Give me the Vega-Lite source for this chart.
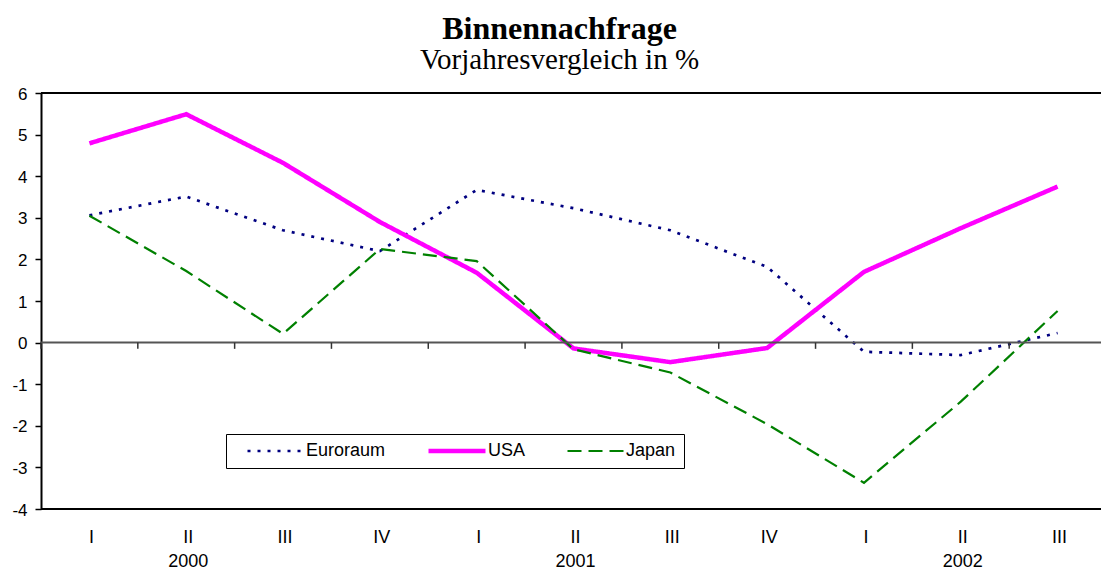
{
  "$schema": "https://vega.github.io/schema/vega-lite/v6.json",
  "width": 1065,
  "height": 416,
  "autosize": {"type": "none"},
  "padding": {"left": 41, "top": 93, "right": 0, "bottom": 62},
  "background": "white",
  "title": {
    "text": "Binnennachfrage",
    "subtitle": "Vorjahresvergleich in %",
    "font": "Liberation Serif",
    "fontSize": 32,
    "fontWeight": "bold",
    "color": "black",
    "subtitleFont": "Liberation Serif",
    "subtitleFontSize": 29,
    "subtitleColor": "black",
    "subtitlePadding": 0,
    "anchor": "middle",
    "dx": -14,
    "offset": 9
  },
  "config": {"view": {"stroke": null}, "font": "Liberation Sans"},
  "datasets": {
    "series": [
      {"p": "2000 I", "s": "Euroraum", "v": 3.06},
      {"p": "2000 II", "s": "Euroraum", "v": 3.51},
      {"p": "2000 III", "s": "Euroraum", "v": 2.7},
      {"p": "2000 IV", "s": "Euroraum", "v": 2.2},
      {"p": "2001 I", "s": "Euroraum", "v": 3.67},
      {"p": "2001 II", "s": "Euroraum", "v": 3.23},
      {"p": "2001 III", "s": "Euroraum", "v": 2.7},
      {"p": "2001 IV", "s": "Euroraum", "v": 1.82},
      {"p": "2002 I", "s": "Euroraum", "v": -0.22},
      {"p": "2002 II", "s": "Euroraum", "v": -0.3},
      {"p": "2002 III", "s": "Euroraum", "v": 0.23},
      {"p": "2000 I", "s": "USA", "v": 4.79},
      {"p": "2000 II", "s": "USA", "v": 5.49},
      {"p": "2000 III", "s": "USA", "v": 4.32},
      {"p": "2000 IV", "s": "USA", "v": 2.9},
      {"p": "2001 I", "s": "USA", "v": 1.68},
      {"p": "2001 II", "s": "USA", "v": -0.14},
      {"p": "2001 III", "s": "USA", "v": -0.47},
      {"p": "2001 IV", "s": "USA", "v": -0.13},
      {"p": "2002 I", "s": "USA", "v": 1.7},
      {"p": "2002 II", "s": "USA", "v": 2.75},
      {"p": "2002 III", "s": "USA", "v": 3.75},
      {"p": "2000 I", "s": "Japan", "v": 3.05},
      {"p": "2000 II", "s": "Japan", "v": 1.72},
      {"p": "2000 III", "s": "Japan", "v": 0.21},
      {"p": "2000 IV", "s": "Japan", "v": 2.25},
      {"p": "2001 I", "s": "Japan", "v": 1.96},
      {"p": "2001 II", "s": "Japan", "v": -0.16},
      {"p": "2001 III", "s": "Japan", "v": -0.72},
      {"p": "2001 IV", "s": "Japan", "v": -1.96},
      {"p": "2002 I", "s": "Japan", "v": -3.37},
      {"p": "2002 II", "s": "Japan", "v": -1.42},
      {"p": "2002 III", "s": "Japan", "v": 0.76}
    ],
    "periods": [
      {"p": "2000 I"}, {"p": "2000 II"}, {"p": "2000 III"}, {"p": "2000 IV"},
      {"p": "2001 I"}, {"p": "2001 II"}, {"p": "2001 III"}, {"p": "2001 IV"},
      {"p": "2002 I"}, {"p": "2002 II"}, {"p": "2002 III"}
    ]
  },
  "layer": [
    {
      "data": {"name": "series"},
      "mark": {"type": "line"},
      "encoding": {
        "x": {
          "field": "p",
          "type": "ordinal",
          "bandPosition": 0.5,
          "scale": {"type": "band", "paddingInner": 0, "paddingOuter": 0},
          "axis": {
            "title": null,
            "domain": false,
            "ticks": false,
            "tickSize": 0,
            "labelAngle": 0,
            "labelFont": "Liberation Sans",
            "labelFontSize": 18,
            "labelColor": "black",
            "labelPadding": 19,
            "labelLineHeight": 24,
            "labelOffset": 2,
            "labelExpr": "split(datum.value, ' ')[1] == 'II' ? [split(datum.value, ' ')[1], split(datum.value, ' ')[0]] : split(datum.value, ' ')[1]"
          }
        },
        "y": {
          "field": "v",
          "type": "quantitative",
          "scale": {"domain": [-4, 6], "nice": false, "zero": false},
          "axis": {
            "title": null,
            "values": [-4, -3, -2, -1, 0, 1, 2, 3, 4, 5, 6],
            "grid": false,
            "domain": true,
            "domainColor": "black",
            "domainWidth": 2,
            "tickColor": "black",
            "tickSize": 6,
            "tickWidth": 1.5,
            "labelFont": "Liberation Sans",
            "labelFontSize": 17,
            "labelColor": "black",
            "labelPadding": 8,
            "labelOffset": 1,
            "labelExpr": "'' + datum.value"
          }
        },
        "color": {
          "field": "s",
          "type": "nominal",
          "scale": {"domain": ["Euroraum", "USA", "Japan"], "range": ["#000080", "#FF00FF", "#008000"]},
          "legend": {
            "title": null,
            "orient": "none",
            "direction": "horizontal",
            "legendX": 185,
            "legendY": 341,
            "padding": 8,
            "strokeColor": "black",
            "fillColor": "white",
            "symbolType": "stroke",
            "symbolSize": 3249,
            "symbolOffset": 12,
            "clipHeight": 18,
            "labelFont": "Liberation Sans",
            "labelFontSize": 18,
            "labelColor": "black",
            "labelOffset": 0,
            "columnPadding": 28,
            "labelExpr": "datum.label == 'Japan' ? 'Japan\u00a0\u00a0' : datum.label"
          }
        },
        "strokeDash": {
          "field": "s",
          "type": "nominal",
          "scale": {"domain": ["Euroraum", "USA", "Japan"], "range": [[3, 7], [1, 0], [14, 7]]},
          "legend": null
        },
        "strokeWidth": {
          "field": "s",
          "type": "nominal",
          "scale": {"type": "ordinal", "domain": ["Euroraum", "USA", "Japan"], "range": [2.7, 4.5, 2.2]},
          "legend": null
        }
      }
    },
    {
      "data": {"values": [{"v": 6}, {"v": -4}]},
      "mark": {"type": "rule", "color": "black", "strokeWidth": 2},
      "encoding": {
        "y": {"field": "v", "type": "quantitative"}
      }
    },
    {
      "data": {"values": [{"v": 0}]},
      "mark": {"type": "rule", "color": "#555555", "strokeWidth": 2},
      "encoding": {
        "y": {"field": "v", "type": "quantitative"}
      }
    },
    {
      "data": {"name": "periods"},
      "mark": {"type": "rule", "color": "#333333", "strokeWidth": 1.5},
      "encoding": {
        "x": {"field": "p", "type": "ordinal", "bandPosition": 0},
        "y": {"datum": 0, "type": "quantitative"},
        "y2": {"datum": -0.15}
      }
    }
  ]
}
